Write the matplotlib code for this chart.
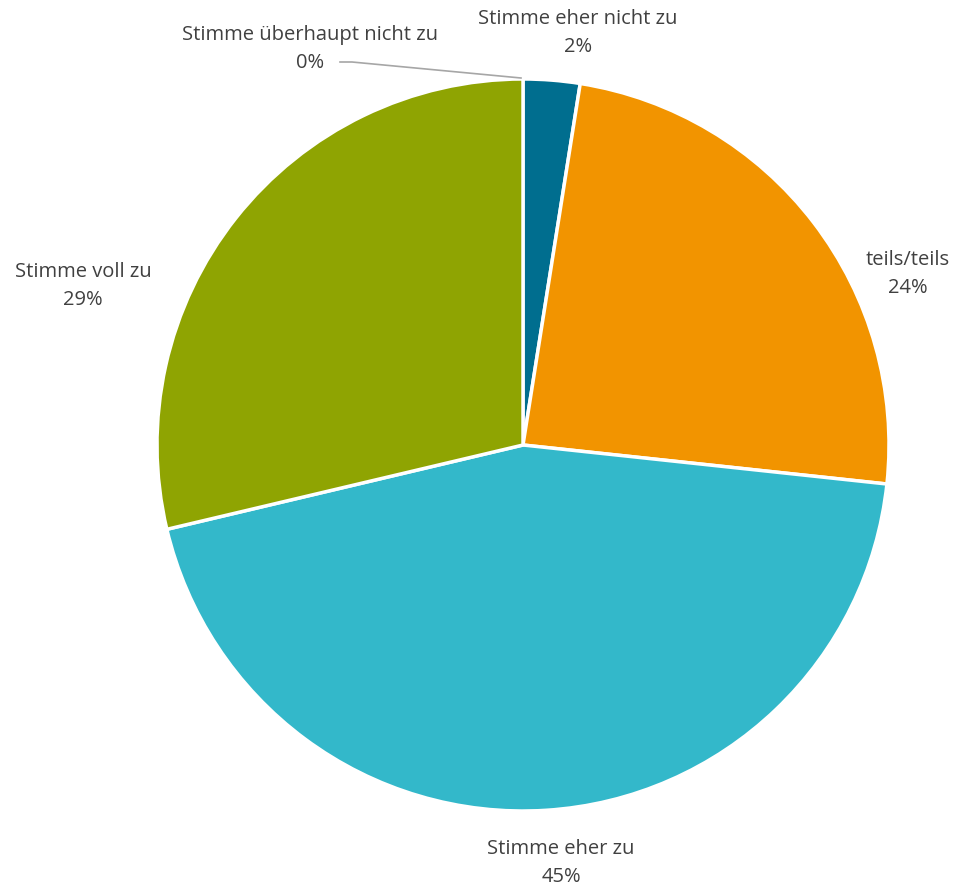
import matplotlib.pyplot as plt

# answer categories and shares (percent)
categories = ["Stimme überhaupt nicht zu", "Stimme eher nicht zu", "teils/teils",
              "Stimme eher zu", "Stimme voll zu"]
shares = [0.0, 2.5, 24.2, 44.6, 28.7]
pct_labels = ["0%", "2%", "24%", "45%", "29%"]
colors = ["#7F7F7F", "#006E8F", "#F29400", "#33B8CA", "#8FA402"]

# label centres in pixels of the 955x890 image
label_px = [(310, 49), (578, 33), (908, 274), (561, 863), (83, 286)]

W, H = 955, 890
cx, cy, R = 523, 445, 366

plt.rcParams['font.family'] = ['Open Sans', 'DejaVu Sans']

fig = plt.figure(figsize=(W / 100, H / 100), dpi=100)
ax = fig.add_axes([(cx - R) / W, (H - cy - R) / H, 2 * R / W, 2 * R / H])

ax.pie(shares, colors=colors, startangle=90, counterclock=False, radius=1,
       wedgeprops=dict(edgecolor="white", linewidth=2.5))
ax.set_xlim(-1, 1)
ax.set_ylim(-1, 1)
ax.set_aspect("equal")
ax.axis("off")


def to_data(px, py):
    return (px - cx) / R, (cy - py) / R


for cat, pct, (px, py) in zip(categories, pct_labels, label_px):
    x, y = to_data(px, py)
    ax.text(x, y, cat + "\n" + pct, ha="center", va="center", fontsize=14.5,
            color="#404040", linespacing=1.5, clip_on=False)

# leader line for the 0% slice
lx, ly = zip(to_data(340, 62), to_data(352, 62), to_data(521, 78))
ax.plot(lx, ly, color="#A6A6A6", lw=1.2, clip_on=False)

fig.savefig("out.png", dpi=100)
